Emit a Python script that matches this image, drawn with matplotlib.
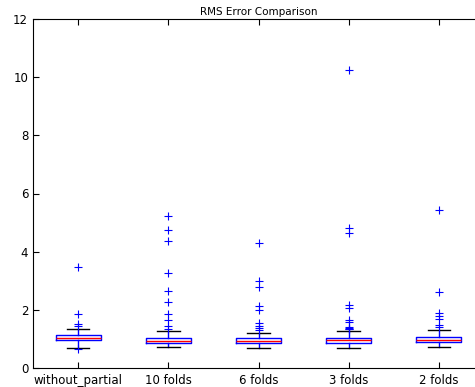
import matplotlib
matplotlib.use("Agg")
import matplotlib.pyplot as plt

labels = ["without_partial", "10 folds", "6 folds", "3 folds", "2 folds"]
q1 = [0.96, 0.85, 0.85, 0.86, 0.88]
med = [1.04, 0.94, 0.93, 0.95, 0.97]
q3 = [1.14, 1.02, 1.02, 1.04, 1.08]
whislo = [0.70, 0.73, 0.70, 0.70, 0.72]
whishi = [1.35, 1.27, 1.22, 1.27, 1.31]
fliers = [
    [3.46, 1.84, 1.52, 1.43, 0.65],
    [5.24, 4.75, 4.35, 3.26, 2.64, 2.26, 1.86, 1.65, 1.45, 1.33],
    [4.31, 2.99, 2.77, 2.12, 1.98, 1.54, 1.45, 1.37, 1.31],
    [10.26, 4.80, 4.63, 2.16, 2.08, 1.65, 1.57, 1.40, 1.37, 1.35, 1.33],
    [5.43, 2.60, 1.88, 1.79, 1.67, 1.48, 1.40],
]

stats = []
for i in range(len(labels)):
    stats.append(dict(label=labels[i], q1=q1[i], med=med[i], q3=q3[i],
                      whislo=whislo[i], whishi=whishi[i], fliers=fliers[i]))

fig = plt.figure(figsize=(4.75, 3.87), dpi=100)
ax = fig.add_axes([33 / 475, 19 / 387, 451 / 475, 349 / 387])

ax.bxp(stats, widths=0.5,
       boxprops=dict(color="blue", linewidth=1.0),
       medianprops=dict(color="red", linewidth=1.0),
       whiskerprops=dict(color="blue", linewidth=1.0),
       capprops=dict(color="black", linewidth=1.0),
       flierprops=dict(marker="+", markeredgecolor="blue", markersize=6,
                       markeredgewidth=0.8, linestyle="none"))

ax.set_ylim(0, 12)
ax.set_xlim(0.5, 5.5)
ax.set_yticks(range(0, 13, 2))
ax.tick_params(direction="in", top=True, right=True, length=4, labelsize=8.5)
ax.tick_params(axis="x", pad=4)
ax.set_title("RMS Error Comparison", fontsize=7.5, pad=3)

fig.savefig("out.png", dpi=100)
